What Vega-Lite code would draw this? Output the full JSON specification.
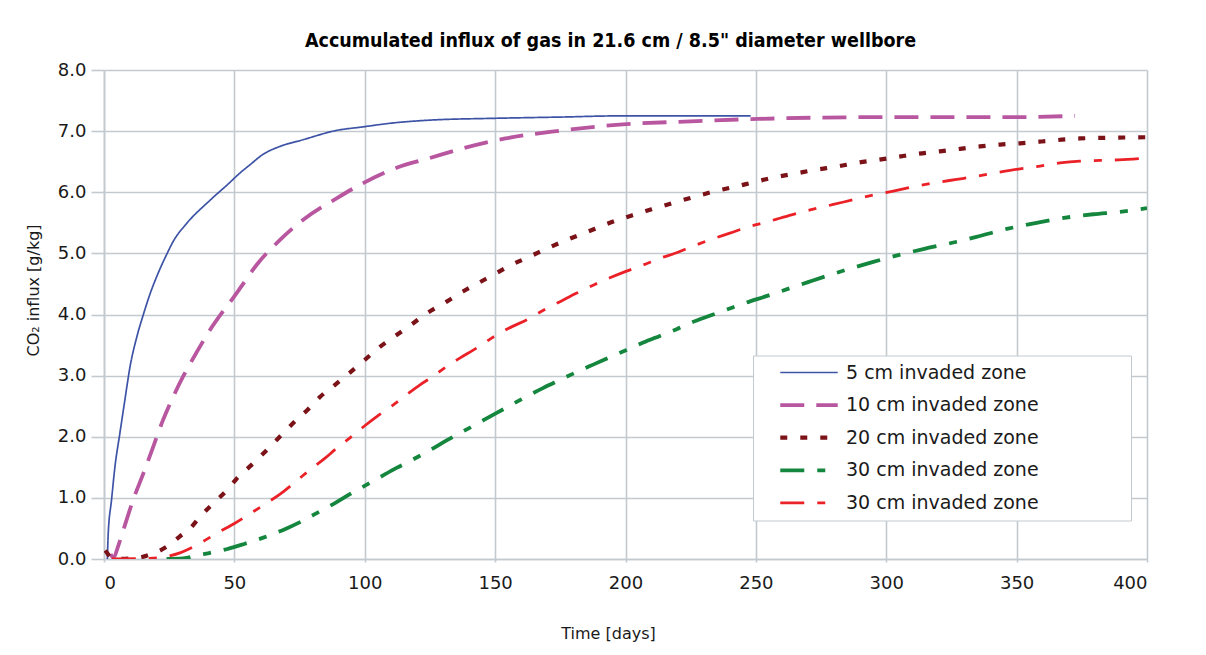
{
  "$schema": "https://vega.github.io/schema/vega-lite/v6.json",
  "width": 1043,
  "height": 489,
  "autosize": {"type": "none"},
  "padding": {"left": 104, "top": 70, "right": 59, "bottom": 96},
  "background": "white",
  "title": {
    "text": "Accumulated influx of gas in 21.6 cm / 8.5\" diameter wellbore",
    "font": "Liberation Sans Narrow, DejaVu Sans Condensed, sans-serif",
    "fontSize": 19.5,
    "fontWeight": "bold",
    "color": "#000000",
    "anchor": "middle",
    "dx": -15,
    "offset": 10
  },
  "config": {
    "view": {"stroke": null},
    "axis": {
      "gridColor": "#c3cacf",
      "gridWidth": 1.6,
      "gridOpacity": 1,
      "domainColor": "#c3cacf",
      "domainWidth": 1.6,
      "tickColor": "#c3cacf",
      "tickWidth": 1.6,
      "labelFont": "DejaVu Sans",
      "labelFontSize": 18,
      "labelColor": "#1a1a1a",
      "titleFont": "DejaVu Sans",
      "titleFontSize": 16,
      "titleFontWeight": "normal",
      "titleColor": "#1a1a1a"
    },
    "legend": {
      "orient": "none",
      "legendX": 649,
      "legendY": 285.5,
      "strokeColor": "#c3cacf",
      "fillColor": "#ffffff",
      "padding": 7,
      "labelFont": "DejaVu Sans",
      "labelFontSize": 19,
      "labelColor": "#1a1a1a",
      "symbolType": "stroke",
      "symbolSize": 3300,
      "symbolOffset": 18,
      "labelOffset": 6,
      "clipHeight": 20,
      "rowPadding": 12.6,
      "labelLimit": 800
    }
  },
  "data": {
    "values": [
      {"series": "5 cm invaded zone", "t": 1.3, "v": 0.0},
      {"series": "5 cm invaded zone", "t": 1.6, "v": 0.4},
      {"series": "5 cm invaded zone", "t": 2.9, "v": 0.97},
      {"series": "5 cm invaded zone", "t": 4.2, "v": 1.51},
      {"series": "5 cm invaded zone", "t": 6.1, "v": 2.06},
      {"series": "5 cm invaded zone", "t": 8.0, "v": 2.6},
      {"series": "5 cm invaded zone", "t": 10.0, "v": 3.15},
      {"series": "5 cm invaded zone", "t": 12.5, "v": 3.62},
      {"series": "5 cm invaded zone", "t": 15.1, "v": 4.0},
      {"series": "5 cm invaded zone", "t": 17.6, "v": 4.33},
      {"series": "5 cm invaded zone", "t": 20.8, "v": 4.68},
      {"series": "5 cm invaded zone", "t": 24.0, "v": 4.98},
      {"series": "5 cm invaded zone", "t": 26.6, "v": 5.2},
      {"series": "5 cm invaded zone", "t": 31.7, "v": 5.49},
      {"series": "5 cm invaded zone", "t": 40.7, "v": 5.87},
      {"series": "5 cm invaded zone", "t": 48.0, "v": 6.15},
      {"series": "5 cm invaded zone", "t": 52.0, "v": 6.31},
      {"series": "5 cm invaded zone", "t": 56.0, "v": 6.45},
      {"series": "5 cm invaded zone", "t": 61.0, "v": 6.62},
      {"series": "5 cm invaded zone", "t": 67.5, "v": 6.75},
      {"series": "5 cm invaded zone", "t": 76.4, "v": 6.86},
      {"series": "5 cm invaded zone", "t": 89.0, "v": 7.01},
      {"series": "5 cm invaded zone", "t": 99.4, "v": 7.07},
      {"series": "5 cm invaded zone", "t": 110.0, "v": 7.13},
      {"series": "5 cm invaded zone", "t": 125.0, "v": 7.18},
      {"series": "5 cm invaded zone", "t": 150.0, "v": 7.21},
      {"series": "5 cm invaded zone", "t": 175.0, "v": 7.23},
      {"series": "5 cm invaded zone", "t": 199.0, "v": 7.25},
      {"series": "5 cm invaded zone", "t": 248.0, "v": 7.25},

      {"series": "10 cm invaded zone", "t": 2.5, "v": 0.08},
      {"series": "10 cm invaded zone", "t": 3.6, "v": 0.02},
      {"series": "10 cm invaded zone", "t": 5.5, "v": 0.22},
      {"series": "10 cm invaded zone", "t": 7.4, "v": 0.47},
      {"series": "10 cm invaded zone", "t": 11.2, "v": 0.97},
      {"series": "10 cm invaded zone", "t": 15.1, "v": 1.4},
      {"series": "10 cm invaded zone", "t": 18.9, "v": 1.84},
      {"series": "10 cm invaded zone", "t": 22.7, "v": 2.28},
      {"series": "10 cm invaded zone", "t": 26.6, "v": 2.66},
      {"series": "10 cm invaded zone", "t": 30.4, "v": 2.99},
      {"series": "10 cm invaded zone", "t": 35.5, "v": 3.38},
      {"series": "10 cm invaded zone", "t": 40.7, "v": 3.75},
      {"series": "10 cm invaded zone", "t": 45.8, "v": 4.06},
      {"series": "10 cm invaded zone", "t": 48.3, "v": 4.2},
      {"series": "10 cm invaded zone", "t": 52.2, "v": 4.43},
      {"series": "10 cm invaded zone", "t": 58.5, "v": 4.81},
      {"series": "10 cm invaded zone", "t": 67.5, "v": 5.22},
      {"series": "10 cm invaded zone", "t": 76.4, "v": 5.55},
      {"series": "10 cm invaded zone", "t": 89.2, "v": 5.9},
      {"series": "10 cm invaded zone", "t": 99.4, "v": 6.15},
      {"series": "10 cm invaded zone", "t": 112.2, "v": 6.4},
      {"series": "10 cm invaded zone", "t": 125.0, "v": 6.56},
      {"series": "10 cm invaded zone", "t": 137.8, "v": 6.72},
      {"series": "10 cm invaded zone", "t": 154.0, "v": 6.88},
      {"series": "10 cm invaded zone", "t": 173.6, "v": 7.0},
      {"series": "10 cm invaded zone", "t": 199.0, "v": 7.11},
      {"series": "10 cm invaded zone", "t": 225.0, "v": 7.16},
      {"series": "10 cm invaded zone", "t": 251.0, "v": 7.2},
      {"series": "10 cm invaded zone", "t": 303.0, "v": 7.23},
      {"series": "10 cm invaded zone", "t": 351.0, "v": 7.23},
      {"series": "10 cm invaded zone", "t": 372.4, "v": 7.25},

      {"series": "20 cm invaded zone", "t": 0.5, "v": 0.14},
      {"series": "20 cm invaded zone", "t": 1.5, "v": 0.08},
      {"series": "20 cm invaded zone", "t": 3.6, "v": 0.0},
      {"series": "20 cm invaded zone", "t": 11.2, "v": 0.01},
      {"series": "20 cm invaded zone", "t": 17.6, "v": 0.07},
      {"series": "20 cm invaded zone", "t": 24.0, "v": 0.2},
      {"series": "20 cm invaded zone", "t": 29.1, "v": 0.37},
      {"series": "20 cm invaded zone", "t": 33.0, "v": 0.5},
      {"series": "20 cm invaded zone", "t": 36.8, "v": 0.69},
      {"series": "20 cm invaded zone", "t": 41.9, "v": 0.91},
      {"series": "20 cm invaded zone", "t": 47.0, "v": 1.12},
      {"series": "20 cm invaded zone", "t": 51.0, "v": 1.32},
      {"series": "20 cm invaded zone", "t": 56.6, "v": 1.54},
      {"series": "20 cm invaded zone", "t": 62.4, "v": 1.78},
      {"series": "20 cm invaded zone", "t": 68.1, "v": 2.03},
      {"series": "20 cm invaded zone", "t": 73.2, "v": 2.25},
      {"series": "20 cm invaded zone", "t": 78.3, "v": 2.45},
      {"series": "20 cm invaded zone", "t": 82.8, "v": 2.65},
      {"series": "20 cm invaded zone", "t": 88.6, "v": 2.85},
      {"series": "20 cm invaded zone", "t": 94.3, "v": 3.05},
      {"series": "20 cm invaded zone", "t": 100.1, "v": 3.26},
      {"series": "20 cm invaded zone", "t": 105.2, "v": 3.45},
      {"series": "20 cm invaded zone", "t": 111.0, "v": 3.63},
      {"series": "20 cm invaded zone", "t": 117.4, "v": 3.82},
      {"series": "20 cm invaded zone", "t": 123.8, "v": 4.02},
      {"series": "20 cm invaded zone", "t": 131.4, "v": 4.21},
      {"series": "20 cm invaded zone", "t": 137.8, "v": 4.38},
      {"series": "20 cm invaded zone", "t": 144.2, "v": 4.53},
      {"series": "20 cm invaded zone", "t": 150.6, "v": 4.68},
      {"series": "20 cm invaded zone", "t": 155.7, "v": 4.8},
      {"series": "20 cm invaded zone", "t": 163.4, "v": 4.95},
      {"series": "20 cm invaded zone", "t": 170.4, "v": 5.09},
      {"series": "20 cm invaded zone", "t": 177.5, "v": 5.22},
      {"series": "20 cm invaded zone", "t": 185.2, "v": 5.35},
      {"series": "20 cm invaded zone", "t": 194.0, "v": 5.5},
      {"series": "20 cm invaded zone", "t": 202.4, "v": 5.62},
      {"series": "20 cm invaded zone", "t": 210.0, "v": 5.72},
      {"series": "20 cm invaded zone", "t": 217.7, "v": 5.82},
      {"series": "20 cm invaded zone", "t": 226.0, "v": 5.92},
      {"series": "20 cm invaded zone", "t": 233.7, "v": 6.01},
      {"series": "20 cm invaded zone", "t": 242.0, "v": 6.09},
      {"series": "20 cm invaded zone", "t": 249.7, "v": 6.17},
      {"series": "20 cm invaded zone", "t": 256.7, "v": 6.24},
      {"series": "20 cm invaded zone", "t": 265.6, "v": 6.31},
      {"series": "20 cm invaded zone", "t": 273.3, "v": 6.37},
      {"series": "20 cm invaded zone", "t": 281.0, "v": 6.42},
      {"series": "20 cm invaded zone", "t": 288.6, "v": 6.48},
      {"series": "20 cm invaded zone", "t": 296.9, "v": 6.53},
      {"series": "20 cm invaded zone", "t": 304.6, "v": 6.58},
      {"series": "20 cm invaded zone", "t": 312.3, "v": 6.63},
      {"series": "20 cm invaded zone", "t": 320.6, "v": 6.67},
      {"series": "20 cm invaded zone", "t": 328.3, "v": 6.71},
      {"series": "20 cm invaded zone", "t": 335.9, "v": 6.75},
      {"series": "20 cm invaded zone", "t": 343.6, "v": 6.78},
      {"series": "20 cm invaded zone", "t": 351.3, "v": 6.8},
      {"series": "20 cm invaded zone", "t": 359.6, "v": 6.83},
      {"series": "20 cm invaded zone", "t": 367.3, "v": 6.86},
      {"series": "20 cm invaded zone", "t": 374.3, "v": 6.88},
      {"series": "20 cm invaded zone", "t": 383.2, "v": 6.89},
      {"series": "20 cm invaded zone", "t": 400.0, "v": 6.9},

      {"series": "30 cm invaded zone (green)", "t": 24.0, "v": 0.0},
      {"series": "30 cm invaded zone (green)", "t": 30.4, "v": 0.01},
      {"series": "30 cm invaded zone (green)", "t": 36.8, "v": 0.07},
      {"series": "30 cm invaded zone (green)", "t": 40.7, "v": 0.1},
      {"series": "30 cm invaded zone (green)", "t": 47.0, "v": 0.16},
      {"series": "30 cm invaded zone (green)", "t": 54.0, "v": 0.25},
      {"series": "30 cm invaded zone (green)", "t": 61.1, "v": 0.35},
      {"series": "30 cm invaded zone (green)", "t": 70.0, "v": 0.5},
      {"series": "30 cm invaded zone (green)", "t": 76.4, "v": 0.63},
      {"series": "30 cm invaded zone (green)", "t": 82.8, "v": 0.78},
      {"series": "30 cm invaded zone (green)", "t": 89.2, "v": 0.93},
      {"series": "30 cm invaded zone (green)", "t": 94.3, "v": 1.06},
      {"series": "30 cm invaded zone (green)", "t": 100.1, "v": 1.2},
      {"series": "30 cm invaded zone (green)", "t": 105.9, "v": 1.34},
      {"series": "30 cm invaded zone (green)", "t": 112.2, "v": 1.49},
      {"series": "30 cm invaded zone (green)", "t": 118.6, "v": 1.63},
      {"series": "30 cm invaded zone (green)", "t": 125.0, "v": 1.78},
      {"series": "30 cm invaded zone (green)", "t": 131.4, "v": 1.94},
      {"series": "30 cm invaded zone (green)", "t": 137.8, "v": 2.09},
      {"series": "30 cm invaded zone (green)", "t": 144.2, "v": 2.24},
      {"series": "30 cm invaded zone (green)", "t": 150.6, "v": 2.39},
      {"series": "30 cm invaded zone (green)", "t": 155.7, "v": 2.51},
      {"series": "30 cm invaded zone (green)", "t": 159.5, "v": 2.6},
      {"series": "30 cm invaded zone (green)", "t": 168.5, "v": 2.8},
      {"series": "30 cm invaded zone (green)", "t": 174.9, "v": 2.93},
      {"series": "30 cm invaded zone (green)", "t": 181.3, "v": 3.06},
      {"series": "30 cm invaded zone (green)", "t": 187.6, "v": 3.18},
      {"series": "30 cm invaded zone (green)", "t": 194.0, "v": 3.3},
      {"series": "30 cm invaded zone (green)", "t": 200.4, "v": 3.42},
      {"series": "30 cm invaded zone (green)", "t": 206.8, "v": 3.54},
      {"series": "30 cm invaded zone (green)", "t": 213.2, "v": 3.65},
      {"series": "30 cm invaded zone (green)", "t": 219.6, "v": 3.76},
      {"series": "30 cm invaded zone (green)", "t": 225.4, "v": 3.87},
      {"series": "30 cm invaded zone (green)", "t": 231.7, "v": 3.97},
      {"series": "30 cm invaded zone (green)", "t": 238.8, "v": 4.08},
      {"series": "30 cm invaded zone (green)", "t": 246.0, "v": 4.19},
      {"series": "30 cm invaded zone (green)", "t": 254.0, "v": 4.3},
      {"series": "30 cm invaded zone (green)", "t": 270.0, "v": 4.53},
      {"series": "30 cm invaded zone (green)", "t": 286.1, "v": 4.75},
      {"series": "30 cm invaded zone (green)", "t": 295.0, "v": 4.86},
      {"series": "30 cm invaded zone (green)", "t": 302.7, "v": 4.95},
      {"series": "30 cm invaded zone (green)", "t": 314.2, "v": 5.07},
      {"series": "30 cm invaded zone (green)", "t": 327.0, "v": 5.19},
      {"series": "30 cm invaded zone (green)", "t": 334.6, "v": 5.27},
      {"series": "30 cm invaded zone (green)", "t": 346.2, "v": 5.4},
      {"series": "30 cm invaded zone (green)", "t": 357.7, "v": 5.5},
      {"series": "30 cm invaded zone (green)", "t": 366.6, "v": 5.57},
      {"series": "30 cm invaded zone (green)", "t": 379.4, "v": 5.64},
      {"series": "30 cm invaded zone (green)", "t": 389.7, "v": 5.68},
      {"series": "30 cm invaded zone (green)", "t": 400.0, "v": 5.74},

      {"series": "30 cm invaded zone (red)", "t": 3.0, "v": 0.0},
      {"series": "30 cm invaded zone (red)", "t": 17.6, "v": 0.01},
      {"series": "30 cm invaded zone (red)", "t": 24.0, "v": 0.04},
      {"series": "30 cm invaded zone (red)", "t": 29.1, "v": 0.1},
      {"series": "30 cm invaded zone (red)", "t": 34.2, "v": 0.2},
      {"series": "30 cm invaded zone (red)", "t": 38.1, "v": 0.29},
      {"series": "30 cm invaded zone (red)", "t": 43.2, "v": 0.42},
      {"series": "30 cm invaded zone (red)", "t": 50.0, "v": 0.58},
      {"series": "30 cm invaded zone (red)", "t": 56.3, "v": 0.75},
      {"series": "30 cm invaded zone (red)", "t": 61.1, "v": 0.88},
      {"series": "30 cm invaded zone (red)", "t": 68.7, "v": 1.1},
      {"series": "30 cm invaded zone (red)", "t": 73.9, "v": 1.28},
      {"series": "30 cm invaded zone (red)", "t": 79.0, "v": 1.46},
      {"series": "30 cm invaded zone (red)", "t": 84.8, "v": 1.65},
      {"series": "30 cm invaded zone (red)", "t": 89.2, "v": 1.81},
      {"series": "30 cm invaded zone (red)", "t": 93.7, "v": 1.96},
      {"series": "30 cm invaded zone (red)", "t": 99.4, "v": 2.16},
      {"series": "30 cm invaded zone (red)", "t": 104.6, "v": 2.33},
      {"series": "30 cm invaded zone (red)", "t": 110.3, "v": 2.5},
      {"series": "30 cm invaded zone (red)", "t": 116.1, "v": 2.69},
      {"series": "30 cm invaded zone (red)", "t": 121.2, "v": 2.85},
      {"series": "30 cm invaded zone (red)", "t": 126.3, "v": 2.99},
      {"series": "30 cm invaded zone (red)", "t": 131.4, "v": 3.15},
      {"series": "30 cm invaded zone (red)", "t": 136.6, "v": 3.29},
      {"series": "30 cm invaded zone (red)", "t": 142.9, "v": 3.45},
      {"series": "30 cm invaded zone (red)", "t": 148.5, "v": 3.61},
      {"series": "30 cm invaded zone (red)", "t": 155.0, "v": 3.77},
      {"series": "30 cm invaded zone (red)", "t": 163.4, "v": 3.94},
      {"series": "30 cm invaded zone (red)", "t": 168.5, "v": 4.07},
      {"series": "30 cm invaded zone (red)", "t": 174.9, "v": 4.21},
      {"series": "30 cm invaded zone (red)", "t": 181.3, "v": 4.35},
      {"series": "30 cm invaded zone (red)", "t": 187.6, "v": 4.48},
      {"series": "30 cm invaded zone (red)", "t": 194.0, "v": 4.6},
      {"series": "30 cm invaded zone (red)", "t": 200.4, "v": 4.71},
      {"series": "30 cm invaded zone (red)", "t": 206.8, "v": 4.81},
      {"series": "30 cm invaded zone (red)", "t": 213.2, "v": 4.92},
      {"series": "30 cm invaded zone (red)", "t": 219.6, "v": 5.01},
      {"series": "30 cm invaded zone (red)", "t": 225.4, "v": 5.11},
      {"series": "30 cm invaded zone (red)", "t": 232.3, "v": 5.22},
      {"series": "30 cm invaded zone (red)", "t": 240.0, "v": 5.33},
      {"series": "30 cm invaded zone (red)", "t": 247.6, "v": 5.44},
      {"series": "30 cm invaded zone (red)", "t": 254.0, "v": 5.51},
      {"series": "30 cm invaded zone (red)", "t": 258.0, "v": 5.56},
      {"series": "30 cm invaded zone (red)", "t": 263.7, "v": 5.63},
      {"series": "30 cm invaded zone (red)", "t": 270.8, "v": 5.71},
      {"series": "30 cm invaded zone (red)", "t": 279.7, "v": 5.8},
      {"series": "30 cm invaded zone (red)", "t": 288.6, "v": 5.89},
      {"series": "30 cm invaded zone (red)", "t": 295.6, "v": 5.96},
      {"series": "30 cm invaded zone (red)", "t": 302.7, "v": 6.02},
      {"series": "30 cm invaded zone (red)", "t": 311.6, "v": 6.1},
      {"series": "30 cm invaded zone (red)", "t": 319.3, "v": 6.16},
      {"series": "30 cm invaded zone (red)", "t": 327.0, "v": 6.21},
      {"series": "30 cm invaded zone (red)", "t": 334.6, "v": 6.26},
      {"series": "30 cm invaded zone (red)", "t": 342.3, "v": 6.32},
      {"series": "30 cm invaded zone (red)", "t": 350.7, "v": 6.38},
      {"series": "30 cm invaded zone (red)", "t": 357.7, "v": 6.42},
      {"series": "30 cm invaded zone (red)", "t": 366.6, "v": 6.48},
      {"series": "30 cm invaded zone (red)", "t": 374.3, "v": 6.51},
      {"series": "30 cm invaded zone (red)", "t": 382.0, "v": 6.52},
      {"series": "30 cm invaded zone (red)", "t": 389.0, "v": 6.53},
      {"series": "30 cm invaded zone (red)", "t": 400.0, "v": 6.56}
    ]
  },
  "mark": {"type": "line", "interpolate": "monotone", "clip": true, "strokeCap": "butt"},
  "encoding": {
    "x": {
      "field": "t",
      "type": "quantitative",
      "scale": {"domain": [0, 400], "nice": false, "zero": false},
      "axis": {
        "values": [0, 50, 100, 150, 200, 250, 300, 350, 400],
        "tickSize": 3,
        "labelPadding": 12,
        "title": "Time [days]",
        "titleX": 504,
        "titleY": 74,
        "titleBaseline": "middle"
      }
    },
    "y": {
      "field": "v",
      "type": "quantitative",
      "scale": {"domain": [0, 8], "nice": false},
      "axis": {
        "values": [0, 1, 2, 3, 4, 5, 6, 7, 8],
        "format": ".1f",
        "tickSize": 13,
        "labelPadding": 5,
        "title": "CO₂ influx [g/kg]",
        "titleX": -71,
        "titleY": 220,
        "titleBaseline": "middle",
        "titleAngle": -90
      }
    },
    "color": {
      "field": "series",
      "type": "nominal",
      "scale": {
        "domain": ["5 cm invaded zone", "10 cm invaded zone", "20 cm invaded zone", "30 cm invaded zone (green)", "30 cm invaded zone (red)"],
        "range": ["#3d53a6", "#b8579f", "#7a1218", "#14863d", "#eb2128"]
      },
      "legend": {"title": null, "labelExpr": "replace(replace(datum.label, ' (green)', ''), ' (red)', '') + '\u00a0\u00a0\u00a0\u00a0\u00a0\u00a0\u00a0\u00a0\u00a0\u00a0\u00a0\u00a0\u00a0\u00a0\u200b'"}
    },
    "strokeDash": {
      "field": "series",
      "type": "nominal",
      "scale": {
        "domain": ["5 cm invaded zone", "10 cm invaded zone", "20 cm invaded zone", "30 cm invaded zone (green)", "30 cm invaded zone (red)"],
        "range": [[1, 0], [24, 12], [7, 13], [24, 13, 8, 13], [24, 13, 8, 13]]
      },
      "legend": {"title": null, "labelExpr": "replace(replace(datum.label, ' (green)', ''), ' (red)', '') + '\u00a0\u00a0\u00a0\u00a0\u00a0\u00a0\u00a0\u00a0\u00a0\u00a0\u00a0\u00a0\u00a0\u00a0\u200b'"}
    },
    "strokeWidth": {
      "field": "series",
      "type": "nominal",
      "scale": {
        "type": "ordinal",
        "domain": ["5 cm invaded zone", "10 cm invaded zone", "20 cm invaded zone", "30 cm invaded zone (green)", "30 cm invaded zone (red)"],
        "range": [1.7, 3.8, 4.2, 3.8, 2.8]
      },
      "legend": {"title": null, "labelExpr": "replace(replace(datum.label, ' (green)', ''), ' (red)', '') + '\u00a0\u00a0\u00a0\u00a0\u00a0\u00a0\u00a0\u00a0\u00a0\u00a0\u00a0\u00a0\u00a0\u00a0\u200b'"}
    }
  }
}
